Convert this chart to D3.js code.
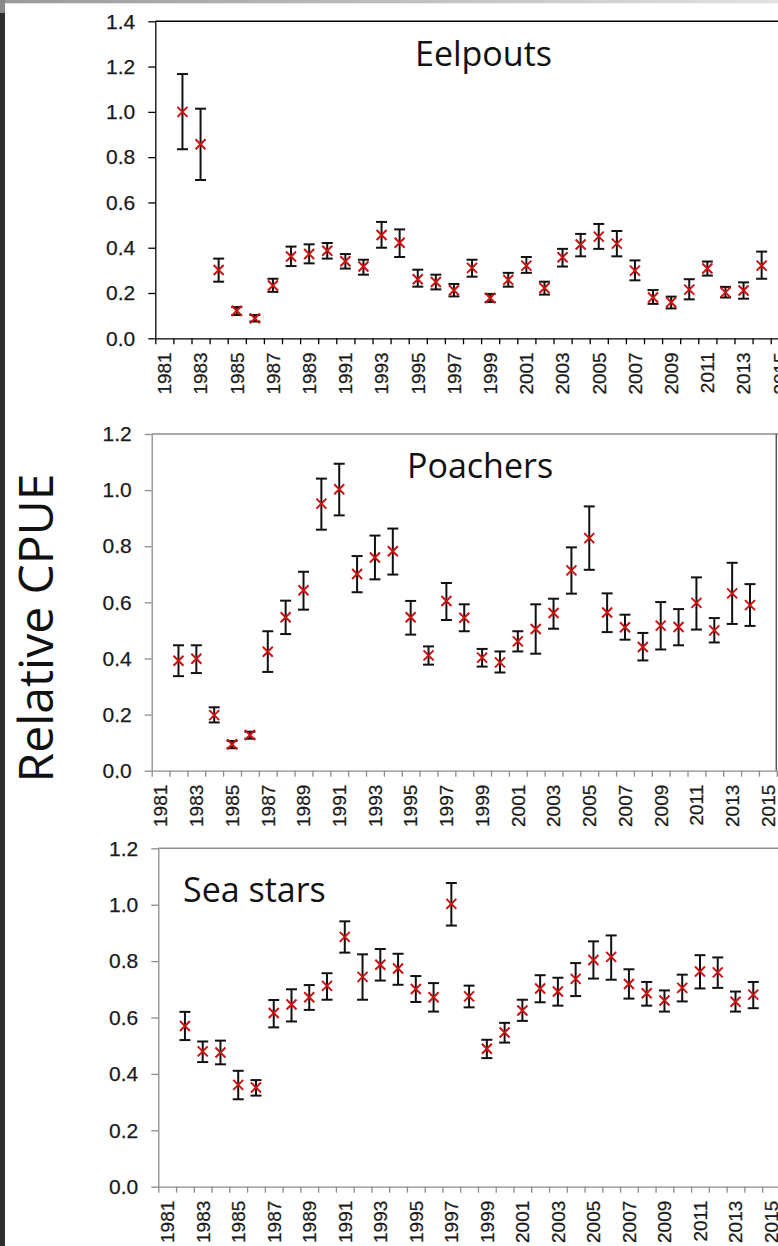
<!DOCTYPE html>
<html>
<head>
<meta charset="utf-8">
<script src="https://cdn.jsdelivr.net/npm/d3@7"></script>
<style>
  body { margin: 0; background: #fff; }
  svg { display: block; }
  .tick-label { font-family: Arial, 'Liberation Sans', sans-serif; }
</style>
</head>
<body>
<svg id="chart" width="778" height="1246"></svg>
<script>
// survey years with an estimate
const years = [1982, 1983, 1984, 1985, 1986, 1987, 1988, 1989, 1990, 1991, 1992,
  1993, 1994, 1995, 1996, 1997, 1998, 1999, 2000, 2001, 2002, 2003, 2004, 2005,
  2006, 2007, 2008, 2009, 2010, 2011, 2012, 2013, 2014];
// every other year gets a label on the category axis
const labelYears = [1981, 1983, 1985, 1987, 1989, 1991, 1993, 1995, 1997, 1999,
  2001, 2003, 2005, 2007, 2009, 2011, 2013, 2015];
const yTicks14 = [0, 0.2, 0.4, 0.6, 0.8, 1.0, 1.2, 1.4];
const yTicks12 = [0, 0.2, 0.4, 0.6, 0.8, 1.0, 1.2];

const eelpoutsMean = [1.00, 0.857, 0.302, 0.122, 0.088, 0.233, 0.361, 0.372, 0.387, 0.340, 0.317,
  0.456, 0.422, 0.261, 0.249, 0.212, 0.311, 0.178, 0.258, 0.321, 0.222, 0.358, 0.414, 0.449,
  0.418, 0.299, 0.180, 0.159, 0.215, 0.308, 0.203, 0.211, 0.321];
const eelpoutsLow = [0.835, 0.699, 0.250, 0.103, 0.074, 0.205, 0.319, 0.331, 0.352, 0.308, 0.281,
  0.400, 0.359, 0.228, 0.216, 0.185, 0.272, 0.160, 0.228, 0.289, 0.193, 0.317, 0.362, 0.395,
  0.362, 0.256, 0.152, 0.132, 0.172, 0.277, 0.180, 0.175, 0.263];
const eelpoutsHigh = [1.167, 1.014, 0.352, 0.138, 0.103, 0.263, 0.405, 0.415, 0.421, 0.372, 0.347,
  0.514, 0.481, 0.303, 0.281, 0.240, 0.347, 0.196, 0.289, 0.359, 0.250, 0.395, 0.461, 0.505,
  0.474, 0.344, 0.213, 0.184, 0.261, 0.339, 0.227, 0.247, 0.383];

const poachersMean = [0.392, 0.399, 0.198, 0.094, 0.127, 0.424, 0.547, 0.643, 0.952, 1.003, 0.701,
  0.760, 0.782, 0.547, 0.411, 0.605, 0.545, 0.403, 0.386, 0.461, 0.505, 0.562, 0.714, 0.829,
  0.564, 0.511, 0.441, 0.517, 0.512, 0.598, 0.500, 0.632, 0.590];
const poachersLow = [0.337, 0.348, 0.172, 0.080, 0.114, 0.352, 0.487, 0.574, 0.859, 0.910, 0.636,
  0.682, 0.699, 0.485, 0.378, 0.537, 0.497, 0.371, 0.350, 0.425, 0.417, 0.506, 0.631, 0.716,
  0.494, 0.467, 0.393, 0.432, 0.447, 0.503, 0.457, 0.523, 0.516];
const poachersHigh = [0.447, 0.447, 0.226, 0.106, 0.139, 0.497, 0.606, 0.709, 1.041, 1.094, 0.765,
  0.838, 0.863, 0.605, 0.443, 0.669, 0.593, 0.434, 0.425, 0.497, 0.593, 0.613, 0.796, 0.942,
  0.632, 0.556, 0.491, 0.601, 0.576, 0.689, 0.544, 0.741, 0.665];

const seaStarsMean = [0.570, 0.480, 0.476, 0.361, 0.352, 0.616, 0.646, 0.672, 0.712, 0.886, 0.744,
  0.787, 0.774, 0.701, 0.672, 1.003, 0.675, 0.489, 0.547, 0.625, 0.703, 0.692, 0.737, 0.804,
  0.815, 0.719, 0.686, 0.660, 0.705, 0.763, 0.760, 0.656, 0.681];
const seaStarsLow = [0.520, 0.442, 0.434, 0.310, 0.323, 0.565, 0.586, 0.627, 0.663, 0.830, 0.663,
  0.731, 0.716, 0.655, 0.621, 0.926, 0.636, 0.456, 0.511, 0.588, 0.654, 0.642, 0.676, 0.738,
  0.734, 0.667, 0.642, 0.621, 0.657, 0.703, 0.705, 0.621, 0.633];
const seaStarsHigh = [0.620, 0.515, 0.518, 0.411, 0.378, 0.662, 0.700, 0.715, 0.757, 0.941, 0.824,
  0.843, 0.826, 0.747, 0.722, 1.077, 0.713, 0.521, 0.581, 0.663, 0.750, 0.741, 0.793, 0.870,
  0.891, 0.771, 0.726, 0.696, 0.752, 0.821, 0.813, 0.692, 0.726];

const panels = [
  { title: "Eelpouts", mean: eelpoutsMean, low: eelpoutsLow, high: eelpoutsHigh, yMax: 1.4, ticks: yTicks14,
    left: 155.3, top: 21.3, bottom: 338.3, band: 18.1, axis: "#000", titleX: 415, titleY: 66, rightBorder: false },
  { title: "Poachers", mean: poachersMean, low: poachersLow, high: poachersHigh, yMax: 1.2, ticks: yTicks12,
    left: 151.7, top: 434, bottom: 770.7, band: 17.86, axis: "#8c8c8c", titleX: 407, titleY: 477.5, rightBorder: true },
  { title: "Sea stars", mean: seaStarsMean, low: seaStarsLow, high: seaStarsHigh, yMax: 1.2, ticks: yTicks12,
    left: 158.3, top: 848.3, bottom: 1186.7, band: 17.76, axis: "#8c8c8c", titleX: 183, titleY: 901.5, rightBorder: false }
];

const W = 778, H = 1246;
const svg = d3.select("#chart");

// window chrome strips seen at the edge of the screenshot
const grad = svg.append("defs").append("linearGradient").attr("id", "topStrip");
grad.append("stop").attr("offset", "0%").attr("stop-color", "#999");
grad.append("stop").attr("offset", "100%").attr("stop-color", "#e2e2e2");
svg.append("rect").attr("x", 0).attr("y", 0).attr("width", W).attr("height", 3.3).attr("fill", "url(#topStrip)");
svg.append("rect").attr("x", 0).attr("y", 0).attr("width", 5).attr("height", 13).attr("fill", "#8a8a8a");
svg.append("rect").attr("x", 0).attr("y", 13).attr("width", 5).attr("height", H - 13).attr("fill", "#2d2d2d");

const titleFont = "'Open Sans', 'Noto Sans', sans-serif";
const red = "#cc1111";

panels.forEach(p => {
  const g = svg.append("g");
  const x = d3.scaleLinear().domain([1981, 2016]).range([p.left, p.left + 35 * p.band]);
  const y = d3.scaleLinear().domain([0, p.yMax]).range([p.bottom, p.top]);

  // top border of plot area
  g.append("line")
    .attr("x1", p.left).attr("x2", W)
    .attr("y1", p.top).attr("y2", p.top)
    .attr("stroke", p.axis).attr("stroke-width", 1.5);
  if (p.rightBorder) {
    g.append("line")
      .attr("x1", x(2016) - 0.5).attr("x2", x(2016) - 0.5)
      .attr("y1", p.top).attr("y2", p.bottom)
      .attr("stroke", "#555").attr("stroke-width", 1.5);
  }

  // category axis: ticks between years
  const xAxis = g.append("g")
    .attr("transform", `translate(0,${p.bottom})`)
    .call(d3.axisBottom(x)
      .tickValues(d3.range(1981, 2017))
      .tickFormat("")
      .tickSize(6)
      .tickSizeOuter(0));
  xAxis.selectAll("path, line").attr("stroke", p.axis).attr("stroke-width", 1.3);

  g.append("g")
    .selectAll("text")
    .data(labelYears)
    .join("text")
    .attr("class", "tick-label")
    .attr("transform", d => `translate(${x(d + 0.5) + 6.8},${p.bottom + 14}) rotate(-90)`)
    .attr("text-anchor", "end")
    .style("font-size", "19px")
    .attr("fill", "#1a1a1a")
    .attr("stroke", "#1a1a1a")
    .attr("stroke-width", 0.25)
    .text(d => d);

  // value axis
  const yAxis = g.append("g")
    .attr("transform", `translate(${p.left},0)`)
    .call(d3.axisLeft(y)
      .tickValues(p.ticks)
      .tickFormat(d3.format(".1f"))
      .tickSize(7)
      .tickPadding(13)
      .tickSizeOuter(0));
  yAxis.attr("font-family", null);
  yAxis.selectAll("path, line").attr("stroke", p.axis).attr("stroke-width", 1.3);
  yAxis.selectAll("text")
    .attr("class", "tick-label")
    .style("font-size", "21px")
    .attr("fill", "#1a1a1a")
    .attr("stroke", "#1a1a1a")
    .attr("stroke-width", 0.25);

  // error bars
  const bars = g.append("g").selectAll("g")
    .data(years.map((yr, i) => ({ yr, m: p.mean[i], lo: p.low[i], hi: p.high[i] })))
    .join("g")
    .attr("stroke", "#111")
    .attr("stroke-width", 2);
  bars.append("line")
    .attr("x1", d => x(d.yr + 0.5)).attr("x2", d => x(d.yr + 0.5))
    .attr("y1", d => y(d.lo)).attr("y2", d => y(d.hi));
  bars.append("line")
    .attr("x1", d => x(d.yr + 0.5) - 5.5).attr("x2", d => x(d.yr + 0.5) + 5.5)
    .attr("y1", d => y(d.hi)).attr("y2", d => y(d.hi));
  bars.append("line")
    .attr("x1", d => x(d.yr + 0.5) - 5.5).attr("x2", d => x(d.yr + 0.5) + 5.5)
    .attr("y1", d => y(d.lo)).attr("y2", d => y(d.lo));

  // x markers
  const s = 5;
  g.append("g").selectAll("path")
    .data(years.map((yr, i) => ({ yr, m: p.mean[i] })))
    .join("path")
    .attr("d", d => {
      const cx = x(d.yr + 0.5), cy = y(d.m);
      return `M${cx - s},${cy - s}L${cx + s},${cy + s}M${cx - s},${cy + s}L${cx + s},${cy - s}`;
    })
    .attr("stroke", red)
    .attr("stroke-width", 2)
    .attr("fill", "none");

  g.append("text")
    .attr("x", p.titleX).attr("y", p.titleY)
    .style("font-family", titleFont)
    .style("font-size", "34px")
    .attr("fill", "#111")
    .text(p.title);
});

svg.append("text")
  .attr("transform", "translate(53,628) rotate(-90)")
  .attr("text-anchor", "middle")
  .style("font-family", titleFont)
  .style("font-size", "48px")
  .attr("fill", "#111")
  .text("Relative CPUE");
</script>
</body>
</html>
